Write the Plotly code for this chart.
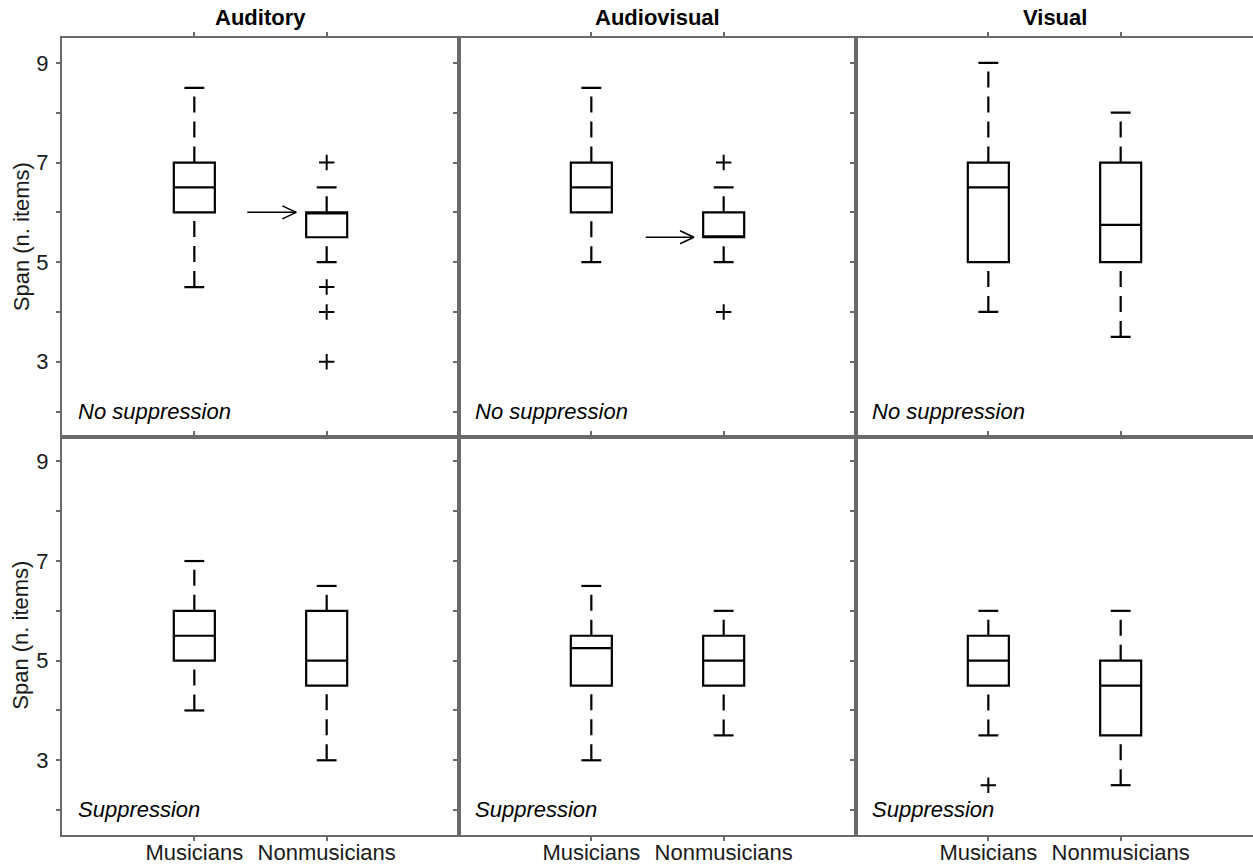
import plotly.graph_objects as go
from plotly.subplots import make_subplots

# ---------------- data ----------------
conditions = ["Auditory", "Audiovisual", "Visual"]
groups = ["Musicians", "Nonmusicians"]
row_labels = ["No suppression", "Suppression"]
y_tickvals = [2, 3, 4, 5, 6, 7, 8, 9]
y_ticktext = ["", "3", "", "5", "", "7", "", "9"]

# No suppression (per condition: [Musicians, Nonmusicians])
nosup_lo = [[4.5, 5.0], [5.0, 5.0], [4.0, 3.5]]
nosup_q1 = [[6.0, 5.5], [6.0, 5.5], [5.0, 5.0]]
nosup_med = [[6.5, 6.0], [6.5, 5.5], [6.5, 5.75]]
nosup_q3 = [[7.0, 6.0], [7.0, 6.0], [7.0, 7.0]]
nosup_hi = [[8.5, 6.5], [8.5, 6.5], [9.0, 8.0]]
nosup_out = [[[], [7.0, 4.5, 4.0, 3.0]], [[], [7.0, 4.0]], [[], []]]

# Suppression
sup_lo = [[4.0, 3.0], [3.0, 3.5], [3.5, 2.5]]
sup_q1 = [[5.0, 4.5], [4.5, 4.5], [4.5, 3.5]]
sup_med = [[5.5, 5.0], [5.25, 5.0], [5.0, 4.5]]
sup_q3 = [[6.0, 6.0], [5.5, 5.5], [5.5, 5.0]]
sup_hi = [[7.0, 6.5], [6.5, 6.0], [6.0, 6.0]]
sup_out = [[[], []], [[], []], [[2.5], []]]

# arrows in the no-suppression row: (condition index, x start, x end, y)
arrow_cond = [0, 1]
arrow_x0 = [1.40, 1.41]
arrow_x1 = [1.77, 1.775]
arrow_y = [6.0, 5.5]

# ---------------- style ----------------
FONT = "Liberation Sans, Arial, Helvetica, sans-serif"
FRAME = "#6a6a6a"
BOXW = 0.31
CAPW = 0.15
LW = 2.2

stats = [
    (nosup_lo, nosup_q1, nosup_med, nosup_q3, nosup_hi, nosup_out),
    (sup_lo, sup_q1, sup_med, sup_q3, sup_hi, sup_out),
]

fig = make_subplots(rows=2, cols=3, horizontal_spacing=0, vertical_spacing=0)

for r, (lo, q1, med, q3, hi, out) in enumerate(stats):
    for c in range(3):
        for g in range(2):
            xc = g + 1
            fig.add_trace(go.Box(
                x=[xc], q1=[q1[c][g]], median=[med[c][g]], q3=[q3[c][g]],
                lowerfence=[q1[c][g]], upperfence=[q3[c][g]],
                width=BOXW, whiskerwidth=0, boxpoints=False,
                fillcolor="rgba(0,0,0,0)",
                line=dict(color="black", width=LW),
                hoverinfo="skip", showlegend=False,
            ), row=r + 1, col=c + 1)
            # dashed whiskers (drawn upward, like the original)
            fig.add_trace(go.Scatter(
                x=[xc, xc, None, xc, xc],
                y=[lo[c][g], q1[c][g], None, q3[c][g], hi[c][g]],
                mode="lines", line=dict(color="black", width=LW, dash="16px,9px"),
                hoverinfo="skip", showlegend=False,
            ), row=r + 1, col=c + 1)
            # whisker caps
            fig.add_trace(go.Scatter(
                x=[xc - CAPW / 2, xc + CAPW / 2, None, xc - CAPW / 2, xc + CAPW / 2],
                y=[lo[c][g], lo[c][g], None, hi[c][g], hi[c][g]],
                mode="lines", line=dict(color="black", width=LW),
                hoverinfo="skip", showlegend=False,
            ), row=r + 1, col=c + 1)
            # outliers
            if out[c][g]:
                fig.add_trace(go.Scatter(
                    x=[xc] * len(out[c][g]), y=out[c][g], mode="markers",
                    marker=dict(symbol="cross-thin", size=11,
                                line=dict(color="black", width=2)),
                    hoverinfo="skip", showlegend=False,
                ), row=r + 1, col=c + 1)

# arrows (shaft + open chevron head)
DX, DY = 0.105, 0.13
for ci, x0, x1, y in zip(arrow_cond, arrow_x0, arrow_x1, arrow_y):
    fig.add_trace(go.Scatter(
        x=[x0, x1, None, x1 - DX, x1, x1 - DX],
        y=[y, y, None, y + DY, y, y - DY],
        mode="lines", line=dict(color="black", width=1.5),
        hoverinfo="skip", showlegend=False,
    ), row=1, col=ci + 1)

# axes
for r in range(1, 3):
    for c in range(1, 4):
        fig.update_yaxes(
            range=[1.5, 9.5], tickvals=y_tickvals, ticktext=y_ticktext,
            ticks="outside", ticklen=4, tickwidth=1.5, tickcolor=FRAME,
            showline=True, linecolor=FRAME, linewidth=2, mirror=True,
            showgrid=False, zeroline=False, automargin=False,
            showticklabels=(c == 1), ticklabelstandoff=3,
            tickfont=dict(family=FONT, size=22, color="#1a1a1a"),
            row=r, col=c,
        )
        fig.update_xaxes(
            range=[0, 3], tickvals=[1, 2], ticktext=groups,
            ticks="outside", ticklen=4, tickwidth=1.5, tickcolor=FRAME,
            showline=True, linecolor=FRAME, linewidth=2,
            mirror=("ticks" if r == 2 else True),
            side=("bottom" if r == 2 else "top"),
            showgrid=False, zeroline=False, automargin=False,
            showticklabels=(r == 2), ticklabelstandoff=-7,
            tickfont=dict(family=FONT, size=22, color="#1a1a1a"),
            row=r, col=c,
        )

annotations = []
# column titles
for c, name in enumerate(conditions):
    xa = "x" if c == 0 else f"x{c + 1}"
    annotations.append(dict(
        text=f"<b>{name}</b>", xref=f"{xa} domain", yref="paper",
        x=0.5, y=1.0, yshift=21, xanchor="center", yanchor="middle",
        showarrow=False, font=dict(family=FONT, size=22, color="black"),
    ))
# row labels inside panels
for r in range(2):
    for c in range(3):
        idx = r * 3 + c + 1
        xa = "x" if idx == 1 else f"x{idx}"
        ya = "y" if idx == 1 else f"y{idx}"
        annotations.append(dict(
            text=f"<i>{row_labels[r]}</i>", xref=f"{xa} domain", yref=f"{ya} domain",
            x=0.035, y=0.063, xanchor="left", yanchor="middle",
            showarrow=False, font=dict(family=FONT, size=22, color="black"),
        ))
# y-axis titles
for r in range(2):
    ya = "y" if r == 0 else "y4"
    annotations.append(dict(
        text="Span (n. items)", xref="paper", yref=f"{ya} domain",
        x=0, xshift=-41, y=0.5, xanchor="center", yanchor="middle",
        textangle=-90, showarrow=False,
        font=dict(family=FONT, size=22, color="#1a1a1a"),
    ))

fig.update_layout(
    width=1253, height=867,
    margin=dict(l=62, r=0, t=38, b=32, autoexpand=False),
    paper_bgcolor="white", plot_bgcolor="white",
    showlegend=False, annotations=annotations,
    font=dict(family=FONT),
)

fig.write_html(
    "out.html",
    config={"displayModeBar": False},
    post_script="document.body.style.margin='0';document.body.style.padding='0';"
                "document.body.style.overflow='hidden';",
)
